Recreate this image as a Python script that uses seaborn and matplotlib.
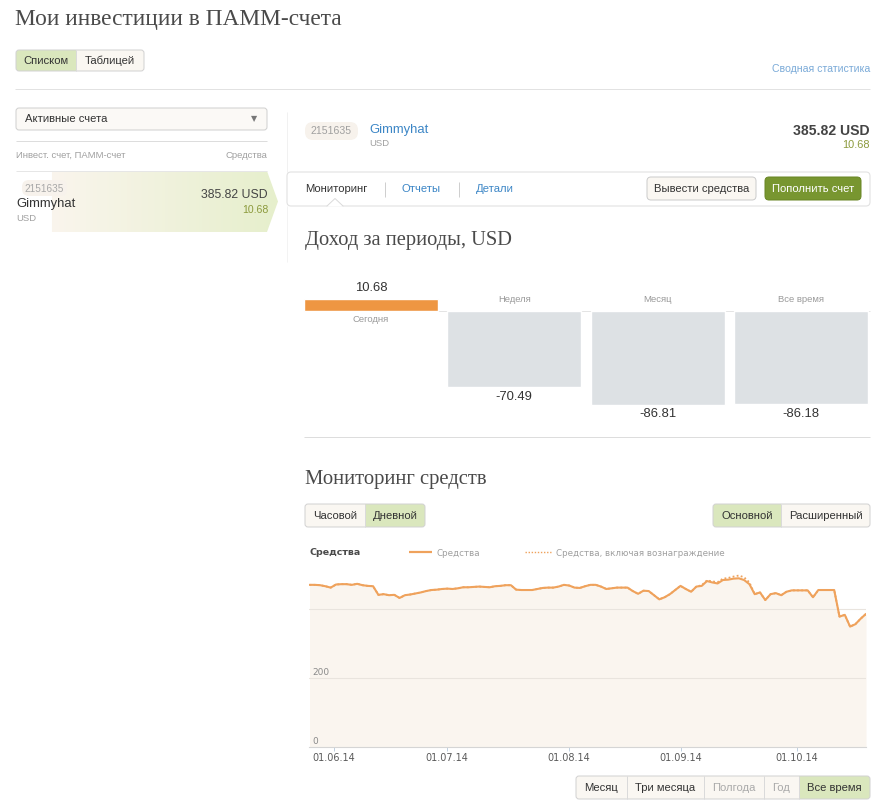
import numpy as np
import pandas as pd
import matplotlib
matplotlib.use("Agg")
import matplotlib.pyplot as plt
import seaborn as sns
from matplotlib.patches import Rectangle, FancyBboxPatch, Polygon

# ---------------- data ----------------
periods = ["Сегодня", "Неделя", "Месяц", "Все время"]
period_income = [10.68, -70.49, -86.81, -86.18]

start_date = "2014-05-26"          # first trading day of the series (business days only)
equity = [
    470, 470, 469, 466, 462, 471, 472, 472, 470, 473, 469, 467, 466,
    441, 443, 440, 441, 432, 440, 442, 445, 448, 452, 455, 456, 458, 459,
    458, 460, 463, 463, 464, 465, 464, 463, 466, 467, 469, 469, 456, 455,
    455, 455, 458, 461, 462, 462, 465, 470, 468, 462, 461, 466, 470,
    470, 465, 458, 460, 462, 462, 462, 452, 444, 453, 452, 440, 428, 434,
    443, 455, 467, 458, 450, 465, 467, 481, 477, 474, 484, 485,
    488, 489, 484, 472, 443, 448, 426, 443, 446, 440, 450, 454, 454, 454,
    454, 434, 455, 455, 455, 455, 378, 383, 349, 356, 372, 385.82,
]
equity_with_reward = [
    470, 470, 469, 466, 462, 471, 472, 472, 470, 473, 469, 467, 466,
    441, 443, 440, 441, 432, 440, 442, 445, 448, 452, 455, 456, 458, 459,
    458, 460, 463, 463, 464, 465, 464, 463, 466, 467, 469, 469, 456, 455,
    455, 455, 458, 461, 462, 462, 465, 470, 468, 462, 461, 466, 470,
    470, 465, 458, 460, 462, 462, 462, 452, 444, 453, 452, 440, 428, 434,
    443, 455, 467, 458, 450, 465, 469, 483, 480, 478, 488, 490,
    494, 497, 492, 477, 443, 448, 426, 443, 446, 440, 450, 454, 454, 454,
    454, 434, 455, 455, 455, 455, 378, 383, 349, 356, 372, 385.82,
]
date_ticks = ["2014-06-01", "2014-07-01", "2014-08-01", "2014-09-01", "2014-10-01"]
date_tick_labels = ["01.06.14", "01.07.14", "01.08.14", "01.09.14", "01.10.14"]
value_ticks = [0, 200, 400]
value_tick_labels = ["0", "200", ""]

account_id = "2151635"
account_name = "Gimmyhat"
currency = "USD"
balance_text = "385.82 USD"
profit_text = "10.68"

# ---------------- style ----------------
sns.set_theme(style="white")
SANS = ["Liberation Sans", "DejaVu Sans"]
SERIF = ["Liberation Serif", "DejaVu Serif"]
plt.rcParams["font.family"] = SANS

ORANGE_BAR = "#EE9642"
GRAY_BAR = "#DDE1E4"
LINE = "#EFA25C"
FILL = "#FAF5EF"
OLIVE = "#8C9A3C"
BLUE = "#3C86C6"
GREEN_BG = "#DAE7BD"
BTN_BG = "#FAF7F2"

W, H = 887, 805
fig = plt.figure(figsize=(W / 100, H / 100), dpi=100)
fig.patch.set_facecolor("white")
ui = fig.add_axes([0, 0, 1, 1], zorder=0)
ui.set_xlim(0, W)
ui.set_ylim(H, 0)
ui.axis("off")
renderer = fig.canvas.get_renderer()


def rect(l, t, r, b):
    return [l / W, 1 - b / H, (r - l) / W, (b - t) / H]


def T(x, y, s, px, color="#333333", ha="left", va="center", weight="normal", family=None, z=5):
    return ui.text(x, y, s, fontsize=px * 0.72, color=color, ha=ha, va=va,
                   fontweight=weight, family=family or SANS, zorder=z)


def fit(x, y, s, target_w, px, **kw):
    t = T(x, y, s, px, **kw)
    w = t.get_window_extent(renderer).width
    t.set_fontsize(t.get_fontsize() * target_w / w)
    return t


def hline(x0, x1, y, color="#E0E0E0", lw=1.0, z=2):
    ui.plot([x0, x1], [y, y], color=color, lw=lw * 0.72, solid_capstyle="butt", zorder=z)


def vline(x, y0, y1, color="#E0E0E0", lw=1.0, z=2):
    ui.plot([x, x], [y0, y1], color=color, lw=lw * 0.72, solid_capstyle="butt", zorder=z)


def rbox(x0, y0, x1, y1, fc, ec, r=3, lw=1.0, z=2):
    p = FancyBboxPatch((x0, y0), x1 - x0, y1 - y0,
                       boxstyle=f"round,pad=0,rounding_size={r}",
                       fc=fc, ec=ec, lw=lw * 0.72, zorder=z)
    ui.add_patch(p)
    return p


def button_group(x0, y0, y1, segs, px=11.3):
    outline = rbox(x0, y0, segs[-1][0], y1, "none", "#D2D2D2", r=3, z=4)
    left = x0
    for xe, label, state in segs:
        fc = GREEN_BG if state == "active" else BTN_BG
        r = Rectangle((left, y0), xe - left, y1 - y0, fc=fc, ec="none", zorder=3)
        ui.add_patch(r)
        r.set_clip_path(outline)
        if left != x0:
            vline(left, y0, y1, "#DADADA", z=4)
        tc = "#AAAAAA" if state == "disabled" else "#333333"
        T((left + xe) / 2, (y0 + y1) / 2 + 0.5, label, px, tc, ha="center", z=5)
        left = xe


# ---------------- header ----------------
fit(15, 25, "Мои инвестиции в ПАММ-счета", 326, 24, color="#4A4A4A",
    va="baseline", family=SERIF)
button_group(16, 50, 71, [(76, "Списком", "active"), (144, "Таблицей", "normal")])
T(870, 69, "Сводная статистика", 10.5, "#7AAAD8", ha="right")
hline(15, 870, 89, "#E2E2E2")

# ---------------- left panel ----------------
rbox(16, 108, 267, 130, "#FBF9F6", "#D0D0D0", r=3)
T(25, 119, "Активные счета", 11.3, "#333333")
T(254, 119, "▼", 8, "#777777", ha="center", family=["DejaVu Sans"])
hline(16, 267, 141, "#DDDDDD")
T(16, 155, "Инвест. счет, ПАММ-счет", 9.5, "#A0A0A0")
T(267, 155, "Средства", 9.5, "#A0A0A0", ha="right")

# selected row with gradient and arrow
row_poly = Polygon([(16, 171), (267, 171), (278, 201.5), (267, 232), (16, 232)],
                   closed=True, fc="none", ec="none")
ui.add_patch(row_poly)
xs = np.linspace(16, 278, 262)
c_white = np.array([255, 255, 255]) / 255
c_beige = np.array([250, 245, 237]) / 255
c_green = np.array([230, 239, 204]) / 255
grad = np.zeros((1, len(xs), 3))
for i, xv in enumerate(xs):
    if xv < 52:
        grad[0, i] = c_white
    else:
        f = (xv - 52) / (278 - 52)
        grad[0, i] = c_beige * (1 - f) + c_green * f
im = ui.imshow(grad, extent=(16, 278, 232, 171), aspect="auto", zorder=1,
               interpolation="bilinear")
im.set_clip_path(row_poly)
ui.set_xlim(0, W)
ui.set_ylim(H, 0)
hline(16, 267, 171, "#E6E6E6")
rbox(22, 180, 67, 196, "#F7F2EC", "none", r=7)
T(44.5, 188.5, account_id, 10, "#A8A8A8", ha="center")
T(16, 204, account_name, 13, "#333333")
T(16, 218, currency, 9.5, "#A0A0A0")
T(268, 195, balance_text, 12.3, "#444444", ha="right")
T(268, 210, profit_text, 10.5, OLIVE, ha="right")

# divider between panels
vline(287, 112, 172, "#F1F1F1")
vline(287, 206, 262, "#F3F3F3")

# ---------------- right panel header ----------------
rbox(305, 122, 358, 140, "#F7F2EC", "none", r=8)
T(331.5, 131, account_id, 10.5, "#A0A0A0", ha="center")
T(369, 130, account_name, 13, BLUE)
T(369, 144, currency, 9.5, "#A0A0A0")
T(870, 131, balance_text, 14, "#444444", ha="right", weight="bold")
T(870, 145, profit_text, 11, OLIVE, ha="right")

# tab bar
tab = FancyBboxPatch((287, 172), 583, 34, boxstyle="round,pad=0,rounding_size=4",
                     fc="white", ec="#E2E2E2", lw=0.8, zorder=2)
ui.add_patch(tab)
ui.add_patch(Polygon([(327, 206.6), (335, 198.5), (343, 206.6)], closed=True,
                     fc="white", ec="none", zorder=3))
ui.plot([327, 335, 343], [206, 198.5, 206], color="#DADADA", lw=0.7, zorder=4)
T(305, 189.5, "Мониторинг", 11.3, "#333333")
vline(385, 182, 197, "#CFCFCF")
T(402, 189.5, "Отчеты", 11.3, BLUE)
vline(459, 182, 197, "#CFCFCF")
T(476, 189.5, "Детали", 11.3, BLUE)
rbox(647, 177, 756, 200, BTN_BG, "#CCCCCC", r=4)
T(701.5, 189, "Вывести средства", 11.3, "#333333", ha="center")
rbox(765, 177, 861, 200, "#789630", "#6A8726", r=4)
T(813, 189, "Пополнить счет", 11.3, "white", ha="center")

# ---------------- income per period ----------------
fit(305, 245, "Доход за периоды, USD", 208, 21, color="#4A4A4A", va="baseline", family=SERIF)

axb = fig.add_axes(rect(299.3, 270, 872.6, 430), zorder=2)
axb.set_facecolor("none")
sns.barplot(x=periods, y=period_income, hue=periods, order=periods, hue_order=periods,
            palette=[ORANGE_BAR, GRAY_BAR, GRAY_BAR, GRAY_BAR], saturation=1,
            width=0.935, legend=False, ax=axb)
axb.set_xlim(-0.5, 3.5)
PXU = 1.08                             # pixels per USD in this panel
axb.set_ylim(-(430 - 311) / PXU, (311 - 270) / PXU)
axb.axis("off")
hline(304, 870, 311, "#E4E4E4", z=1)
for i, (name, v) in enumerate(zip(periods, period_income)):
    if v >= 0:
        axb.annotate(f"{v:.2f}", (i, v), xytext=(0, 11 * 0.72), textcoords="offset points",
                     ha="center", va="center", fontsize=13 * 0.72, color="#333333")
        axb.annotate(name, (i, 0), xytext=(0, -9 * 0.72), textcoords="offset points",
                     ha="center", va="center", fontsize=9.5 * 0.72, color="#9A9A9A")
    else:
        axb.annotate(f"{v:.2f}", (i, v), xytext=(0, -9.5 * 0.72), textcoords="offset points",
                     ha="center", va="center", fontsize=13 * 0.72, color="#333333")
        axb.annotate(name, (i, 0), xytext=(0, 11 * 0.72), textcoords="offset points",
                     ha="center", va="center", fontsize=9.5 * 0.72, color="#9A9A9A")

hline(304, 870, 437, "#DDDDDD")

# ---------------- equity monitoring ----------------
fit(305, 484, "Мониторинг средств", 182, 21, color="#4A4A4A", va="baseline", family=SERIF)
button_group(305, 504, 527, [(365, "Часовой", "normal"), (425, "Дневной", "active")])
button_group(713, 504, 527, [(781, "Основной", "active"), (870, "Расширенный", "normal")])

# legend
CH = ["DejaVu Sans"]
T(310, 552, "Средства", 9.5, "#4A4A4A", weight="bold", family=CH)
ui.plot([409, 432], [552, 552], color=LINE, lw=2.2 * 0.72, solid_capstyle="butt", zorder=5)
T(437, 553, "Средства", 8.8, "#A0A0A0", family=CH)
ui.plot([525, 551], [552, 552], color=LINE, lw=1.4 * 0.72, ls=(0, (1, 1.2)), zorder=5)
T(556, 553, "Средства, включая вознаграждение", 8.8, "#A0A0A0", family=CH)

dates = pd.bdate_range(start_date, periods=len(equity))
pos = np.arange(len(equity))
tick_pos = np.interp(pd.to_datetime(date_ticks).asi8, dates.asi8, pos)

axl = fig.add_axes(rect(309.5, 540, 866, 747), zorder=2)
axl.set_facecolor("none")
axl.fill_between(pos, equity, 0, color=FILL, lw=0, zorder=1)
for v in value_ticks[1:]:
    axl.axhline(v, color="#E9E4DE", lw=1.1 * 0.72, zorder=1.5)
sns.lineplot(x=pos, y=equity_with_reward, color=LINE, lw=1.3, ls=(0, (1, 1.3)), ax=axl, zorder=2)
sns.lineplot(x=pos, y=equity, color=LINE, lw=1.5, ax=axl, zorder=3)
axl.set_xlim(0, len(equity) - 1)
axl.set_ylim(0, 600)
for s in ["top", "right", "left"]:
    axl.spines[s].set_visible(False)
axl.spines["bottom"].set_color("#D5D5D5")
axl.spines["bottom"].set_linewidth(0.8)
axl.set_yticks([])
axl.set_xticks(tick_pos)
axl.set_xticklabels(date_tick_labels, family=CH)
axl.tick_params(axis="x", length=3, width=0.7, color="#C0D0E0", pad=1.2,
                labelsize=9.8 * 0.72, labelcolor="#5A5A5A", bottom=True)
axl.set_xlabel("")
axl.set_ylabel("")
for v, lab in zip(value_ticks, value_tick_labels):
    if lab:
        axl.text(0.006, v + 15, lab, transform=axl.get_yaxis_transform(), ha="left",
                 va="center", fontsize=9 * 0.72, color="#8A8A8A", family=CH, zorder=4)

# range buttons
button_group(576, 776, 799, [(627, "Месяц", "normal"), (704, "Три месяца", "normal"),
                             (764, "Полгода", "disabled"), (799, "Год", "disabled"),
                             (870, "Все время", "active")])

fig.savefig("out.png", dpi=100, facecolor="white")
